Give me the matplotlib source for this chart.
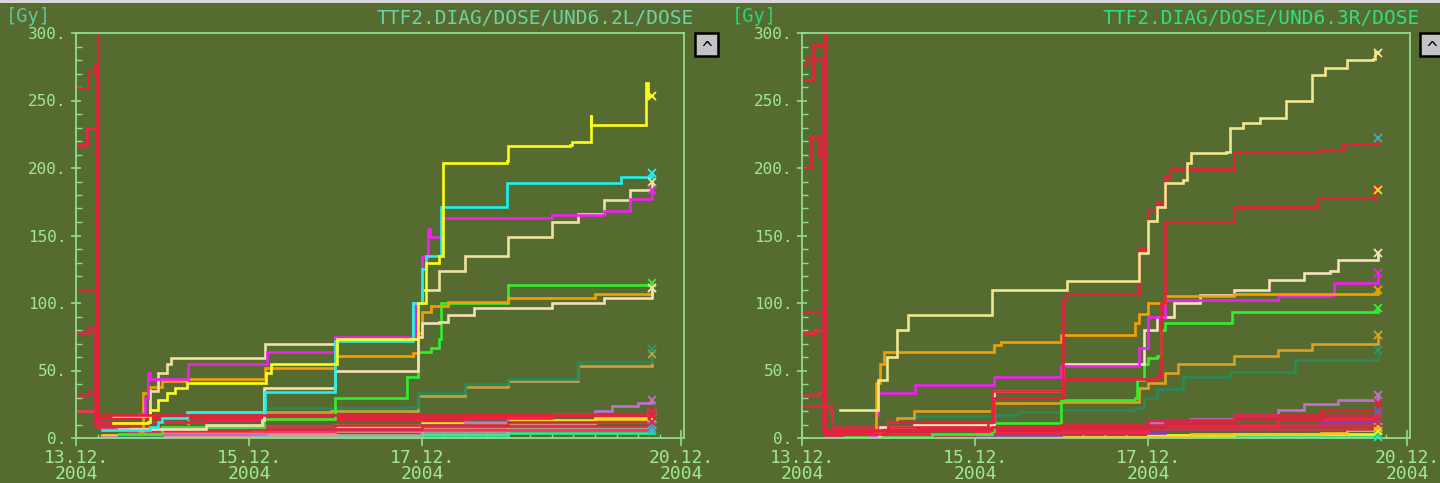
import matplotlib
matplotlib.use("Agg")
import matplotlib.pyplot as plt
from matplotlib.patches import Rectangle

# ---------------- data (t = days since 13.12.2004 00:00, value in Gy) ----------------
TICK_POS = [0, 2, 4, 7]
TICK_LABELS = ["13.12.\n2004", "15.12.\n2004", "17.12.\n2004", "20.12.\n2004"]
Y_TICKS = [0, 50, 100, 150, 200, 250, 300]
Y_LABELS = ["0.", "50.", "100.", "150.", "200.", "250.", "300."]
TITLE_L = "TTF2.DIAG/DOSE/UND6.2L/DOSE"
TITLE_R = "TTF2.DIAG/DOSE/UND6.3R/DOSE"

# ---- left panel (UND6.2L) ----
L_ORCHID_T = [0.3, 1.0, 2.2, 3.0, 4.0, 4.5, 5.0, 5.5, 6.0, 6.2, 6.5, 6.66]
L_ORCHID_V = [1, 3, 5, 7, 10, 12, 16, 18, 20, 24, 26, 28]
L_GOLD_T = [0.3, 1.0, 2.2, 3.0, 4.0, 5.0, 6.0, 6.66]
L_GOLD_V = [2, 4, 6, 8, 10, 12, 14, 15]
L_SALMON_T = [0.5, 2.0, 3.0, 4.0, 5.0, 6.0, 6.66]
L_SALMON_V = [1, 3, 5, 8, 10, 12, 14]
L_GREY_T = [0.5, 2.0, 4.0, 5.0, 6.66]
L_GREY_V = [1, 2, 5, 8, 10]
L_MINT_T = [0.3, 2.0, 4.0, 5.0, 6.66]
L_MINT_V = [0.5, 1, 3, 6, 7]
L_SPRING_T = [0.3, 3.0, 4.0, 5.0, 6.66]
L_SPRING_V = [0.5, 1, 2, 4, 5]
L_YEL2_T = [0.45, 2.0, 3.0, 4.0, 5.0, 6.0, 6.66]
L_YEL2_V = [8, 9, 10, 11, 13, 15, 17]
L_RED_A_T = [0, 0.14, 0.22, 0.24, 1.0, 2.5, 3.5, 4.5, 5.5, 6.66]
L_RED_A_V = [259, 271, 276, 15, 15, 15, 15, 17, 18, 20]
L_RED_B_T = [0, 0.13, 0.24, 1.5, 3.0, 4.5, 5.5, 6.66]
L_RED_B_V = [217, 230, 12, 13, 14, 15, 17, 19]
L_RED_C_T = [0, 0.25, 0.26, 3.0, 5.0, 6.66]
L_RED_C_V = [110, 340, 17, 17, 17, 18]
L_RED_D_T = [0, 0.15, 0.22, 0.58, 2.0, 4.0, 6.66]
L_RED_D_V = [78, 82, 10, 6, 7, 9, 12]
L_RED_E_T = [0, 0.15, 0.24, 1.0, 3.0, 5.0, 6.66]
L_RED_E_V = [32, 35, 9, 9, 10, 12, 16]
L_RED_F_T = [0, 0.25, 0.6, 3.0, 6.66]
L_RED_F_V = [20, 8, 5, 6, 9]
L_TEAL_T = [0.5, 1.0, 2.15, 2.17, 3.8, 3.95, 4.5, 5.0, 5.8, 6.66]
L_TEAL_V = [2, 8, 13, 22, 23, 33, 40, 44, 56, 66]
L_TAN_T = [0.9, 1.3, 2.95, 3.8, 3.95, 4.5, 5.0, 5.8, 6.66]
L_TAN_V = [8, 19, 20, 20, 31, 38, 42, 53, 62]
L_GREEN_T = [0.5, 1.0, 2.17, 2.97, 2.99, 3.8, 3.83, 3.95, 4.1, 4.2, 4.22, 4.98, 5.0, 6.66]
L_GREEN_V = [3, 8, 14, 14, 30, 30, 45, 64, 67, 73, 100, 100, 113, 115]
L_ORANGE_T = [0.74, 0.78, 0.85, 1.0, 1.28, 2.17, 2.19, 2.99, 3.0, 3.9, 3.95, 4.0, 4.1, 4.3, 5.0, 6.0, 6.66]
L_ORANGE_V = [5, 33, 38, 42, 44, 44, 52, 52, 61, 63, 78, 93, 98, 101, 104, 107, 111]
L_CREAM2_T = [0.5, 1.5, 2.15, 2.17, 2.99, 3.0, 3.9, 3.95, 4.0, 4.2, 4.3, 4.6, 5.5, 6.1, 6.66]
L_CREAM2_V = [7, 10, 13, 37, 38, 50, 50, 75, 85, 86, 91, 96, 100, 104, 111]
L_CREAM1_T = [0.43, 0.83, 0.86, 0.95, 1.05, 1.1, 2.17, 2.19, 2.98, 3.0, 3.85, 3.9, 4.0, 4.2, 4.5,
              4.95, 5.0, 5.5, 5.8, 6.1, 6.4, 6.66]
L_CREAM1_V = [16, 16, 35, 48, 55, 59, 59, 70, 70, 74, 74, 100, 110, 124, 135, 135, 149, 160, 166,
              176, 184, 190]
L_MAGENTA_T = [0.74, 0.8, 0.83, 0.85, 1.28, 1.3, 2.19, 2.21, 2.97, 3.0, 3.85, 3.92, 4.0, 4.07, 4.09,
               4.2, 4.22, 5.5, 6.1, 6.4, 6.66]
L_MAGENTA_V = [18, 30, 48, 44, 44, 55, 55, 64, 64, 75, 75, 100, 134, 155, 149, 149, 163, 165, 168,
               177, 184]
L_CYAN_T = [0.3, 0.85, 0.95, 1.0, 1.28, 2.16, 2.18, 2.97, 3.0, 3.85, 3.9, 4.0, 4.05, 4.2, 4.22,
            4.95, 4.98, 6.1, 6.3, 6.66]
L_CYAN_V = [6, 8, 12, 15, 19, 19, 34, 34, 72, 72, 100, 125, 135, 135, 171, 171, 189, 189, 193, 196]
L_YELLOW_T = [0.43, 0.83, 0.85, 0.95, 1.05, 1.15, 1.28, 2.17, 2.2, 2.25, 3.0, 3.02, 3.9, 3.95, 4.05,
              4.2, 4.24, 4.98, 5.0, 5.71, 5.73, 5.94, 5.95, 5.96, 6.58, 6.59, 6.61, 6.66]
L_YELLOW_V = [11, 12, 21, 28, 33, 37, 41, 41, 48, 55, 55, 73, 73, 100, 130, 135, 204, 205, 216,
              217, 219, 219, 239, 232, 232, 263, 253, 253]

# ---- right panel (UND6.3R) ----
R_ORCHID_T = [0.3, 1.0, 2.2, 3.0, 4.0, 4.5, 5.0, 5.5, 5.8, 6.2, 6.66]
R_ORCHID_V = [0.5, 3, 5, 8, 11, 14, 17, 21, 25, 28, 32]
R_PURPLE_T = [0.5, 2.0, 3.0, 4.2, 5.0, 5.5, 6.0, 6.66]
R_PURPLE_V = [1, 2, 4, 6, 8, 9, 12, 14]
R_GOLD_T = [0.5, 3.0, 4.5, 6.0, 6.3, 6.66]
R_GOLD_V = [0.5, 1, 3, 4, 6, 8]
R_YELLOW_T = [1.0, 4.0, 5.0, 6.66]
R_YELLOW_V = [1, 2, 3, 5]
R_SPRING_T = [0.3, 2.0, 4.0, 6.66]
R_SPRING_V = [0.3, 1, 2, 3]
R_LGREEN_T = [0.3, 6.66]
R_LGREEN_V = [0.2, 2]
R_CYAN_T = [0.3, 6.66]
R_CYAN_V = [0.2, 1]
R_RED_A_T = [0, 0.13, 0.25, 0.27, 1.0, 2.2, 3.0, 4.0, 5.0, 6.0, 6.66]
R_RED_A_V = [265, 291, 330, 6, 6, 8, 10, 13, 17, 21, 26]
R_RED_B_T = [0, 0.05, 0.22, 0.24, 1.5, 3.0, 4.2, 5.0, 6.0, 6.66]
R_RED_B_V = [276, 281, 281, 5, 6, 8, 11, 14, 17, 20]
R_RED_E_T = [0, 0.15, 0.26, 2.0, 4.0, 5.5, 6.66]
R_RED_E_V = [78, 80, 3, 5, 9, 14, 18]
R_RED_F_T = [0, 0.2, 0.25, 2.0, 4.0, 6.66]
R_RED_F_V = [32, 34, 2, 4, 7, 11]
R_RED_G_T = [0, 0.33, 0.35, 2.0, 4.0, 6.66]
R_RED_G_V = [24, 20, 8, 8, 10, 15]
R_TEAL_T = [0.9, 1.0, 1.3, 2.2, 2.5, 3.0, 3.85, 3.95, 4.1, 4.4, 4.95, 5.7, 6.66]
R_TEAL_V = [3, 8, 16, 17, 19, 21, 22, 30, 36, 45, 49, 58, 65]
R_GOLDEN_T = [0.9, 1.0, 1.1, 1.3, 2.2, 2.22, 2.98, 3.0, 3.85, 3.9, 4.0, 4.2, 4.35, 4.95, 5.0, 5.5,
              5.9, 6.66]
R_GOLDEN_V = [5, 12, 15, 20, 21, 26, 26, 27, 27, 37, 41, 48, 55, 55, 61, 65, 70, 76]
R_GREEN_T = [0.5, 1.5, 2.2, 2.22, 2.98, 3.0, 3.85, 3.87, 3.95, 4.0, 4.1, 4.15, 4.2, 4.95, 4.97, 6.66]
R_GREEN_V = [1, 3, 5, 11, 11, 28, 30, 43, 55, 59, 61, 80, 85, 85, 93, 96]
R_WHEAT_T = [0.8, 0.9, 1.3, 2.2, 2.22, 3.0, 3.02, 3.85, 3.95, 4.1, 4.3, 4.6, 5.0, 5.4, 5.8, 6.1, 6.2, 6.66]
R_WHEAT_V = [2, 8, 10, 10, 35, 35, 55, 55, 80, 90, 100, 106, 110, 117, 122, 124, 132, 137]
R_MAGENTA_T = [0.8, 0.85, 0.86, 0.88, 1.29, 1.31, 2.2, 2.22, 2.98, 3.0, 3.85, 3.9, 4.0, 4.2, 5.5,
               6.1, 6.15, 6.66]
R_MAGENTA_V = [2, 10, 17, 33, 33, 39, 39, 45, 45, 53, 53, 67, 90, 102, 105, 106, 115, 122]
R_ORANGE_T = [0.8, 0.85, 0.86, 0.9, 0.95, 2.2, 2.22, 2.3, 2.98, 3.0, 3.8, 3.85, 3.9, 4.0, 4.2, 5.0, 6.66]
R_ORANGE_V = [3, 13, 41, 55, 64, 64, 69, 71, 71, 76, 76, 85, 92, 100, 105, 107, 110]
R_REDLOW_T = [0, 0.12, 0.25, 1.0, 2.2, 2.22, 3.0, 3.02, 3.85, 4.1, 4.15, 4.2, 4.95, 5.0, 5.95, 5.97,
              6.6, 6.62, 6.66]
R_REDLOW_V = [93, 93, 3, 12, 12, 30, 30, 44, 44, 45, 100, 160, 160, 171, 173, 178, 178, 187, 184]
R_REDUP_T = [0, 0.1, 0.2, 0.26, 1.0, 2.15, 2.2, 3.0, 3.02, 3.05, 3.85, 3.9, 4.0, 4.1, 4.2, 4.25,
             4.95, 5.0, 6.0, 6.25, 6.66]
R_REDUP_V = [200, 223, 210, 5, 8, 12, 35, 35, 102, 107, 107, 140, 169, 174, 193, 199, 199, 212,
             213, 218, 222]
R_CREAM_T = [0.44, 0.87, 0.88, 0.98, 1.1, 1.22, 2.15, 2.2, 3.04, 3.06, 3.85, 3.9, 4.0, 4.1, 4.2,
             4.4, 4.45, 4.5, 4.9, 4.95, 5.1, 5.3, 5.6, 5.9, 6.05, 6.3, 6.6, 6.62, 6.66]
R_CREAM_V = [21, 21, 43, 60, 80, 91, 91, 110, 110, 116, 116, 137, 161, 171, 189, 191, 204, 211, 212,
             230, 233, 237, 250, 269, 274, 280, 281, 286, 285]

# (t, v, line colour, end-marker colour) in drawing order
LEFT_SERIES = [
    (L_SPRING_T, L_SPRING_V, "#22ee88", "#22ccaa"),
    (L_MINT_T, L_MINT_V, "#44dda8", "#33bbcc"),
    (L_GREY_T, L_GREY_V, "#a8b0a0", "#a8a8a8"),
    (L_SALMON_T, L_SALMON_V, "#f09080", "#f09080"),
    (L_GOLD_T, L_GOLD_V, "#ffd000", "#ffa030"),
    (L_YEL2_T, L_YEL2_V, "#f0e020", "#f0e020"),
    (L_ORCHID_T, L_ORCHID_V, "#c070d0", "#c070d0"),
    (L_TAN_T, L_TAN_V, "#c8a040", "#c8a040"),
    (L_TEAL_T, L_TEAL_V, "#2a8a5a", "#2a9a6a"),
    (L_RED_F_T, L_RED_F_V, "#ff3060", "#4a90c0"),
    (L_RED_E_T, L_RED_E_V, "#c83040", "#c83040"),
    (L_RED_D_T, L_RED_D_V, "#d82848", "#d82848"),
    (L_RED_B_T, L_RED_B_V, "#ff1a4a", "#4a90c0"),
    (L_RED_A_T, L_RED_A_V, "#e8203c", "#e8203c"),
    (L_GREEN_T, L_GREEN_V, "#30f030", "#30f030"),
    (L_ORANGE_T, L_ORANGE_V, "#f5a000", "#f5a000"),
    (L_CREAM2_T, L_CREAM2_V, "#f5dfb8", "#f5dfb8"),
    (L_CREAM1_T, L_CREAM1_V, "#f0e2a0", "#f0e2a0"),
    (L_MAGENTA_T, L_MAGENTA_V, "#f020f0", "#f020f0"),
    (L_CYAN_T, L_CYAN_V, "#20f0f0", "#20f0f0"),
    (L_YELLOW_T, L_YELLOW_V, "#ffff1a", "#ffff1a"),
    (L_RED_C_T, L_RED_C_V, "#e8203c", "#e8203c"),
]
RIGHT_SERIES = [
    (R_CYAN_T, R_CYAN_V, "#20e0e0", "#20e0e0"),
    (R_LGREEN_T, R_LGREEN_V, "#40ff40", "#40ff40"),
    (R_SPRING_T, R_SPRING_V, "#30f090", "#30c0a0"),
    (R_YELLOW_T, R_YELLOW_V, "#f0f020", "#f0f020"),
    (R_GOLD_T, R_GOLD_V, "#ffc020", "#ffc020"),
    (R_PURPLE_T, R_PURPLE_V, "#8040c0", "#8040c0"),
    (R_ORCHID_T, R_ORCHID_V, "#c070d0", "#c070d0"),
    (R_RED_G_T, R_RED_G_V, "#e02848", "#e02848"),
    (R_RED_F_T, R_RED_F_V, "#c83848", "#c83848"),
    (R_RED_E_T, R_RED_E_V, "#ff2040", "#ff2040"),
    (R_RED_B_T, R_RED_B_V, "#d02840", "#4a70c0"),
    (R_TEAL_T, R_TEAL_V, "#2a8a5a", "#2a9a6a"),
    (R_GOLDEN_T, R_GOLDEN_V, "#e0a020", "#e0a020"),
    (R_GREEN_T, R_GREEN_V, "#30f030", "#30f030"),
    (R_WHEAT_T, R_WHEAT_V, "#f8e0c0", "#f8e0c0"),
    (R_MAGENTA_T, R_MAGENTA_V, "#f020f0", "#f020f0"),
    (R_ORANGE_T, R_ORANGE_V, "#f5a000", "#f5a000"),
    (R_REDLOW_T, R_REDLOW_V, "#e8203c", "#f0e020"),
    (R_REDUP_T, R_REDUP_V, "#e8203c", "#40b0c0"),
    (R_CREAM_T, R_CREAM_V, "#f0e890", "#f0e890"),
    (R_RED_A_T, R_RED_A_V, "#e8203c", "#e8203c"),
]

# ---------------- styling ----------------
BG = "#566b30"
AXC = "#90dc90"
TICKC = "#a2e890"
MONO = "DejaVu Sans Mono"

fig = plt.figure(figsize=(14.4, 4.83), dpi=100, facecolor=BG)
W, H = 1440.0, 483.0

# light strip at the very top
fig.patches.append(Rectangle((0, 1 - 3 / H), 1, 3 / H, transform=fig.transFigure,
                             facecolor="#d8d8d8", edgecolor="none", zorder=0))


def panel(left_px, series, title, title_right_px, title_color, unit_x_px, unit_color, btn_x_px):
    ax = fig.add_axes([left_px / W, 45 / H, 608 / W, 405 / H])
    ax.set_facecolor(BG)
    for t, v, c, mc in series:
        ax.step(t, v, where="post", color=c, lw=1.9, solid_joinstyle="miter", zorder=2)
        ax.plot([t[-1]], [v[-1]], marker="x", ms=6, mew=1.3, color=mc, zorder=3, clip_on=False)
    ax.set_xlim(0, 7.03)
    ax.set_ylim(0, 300)
    for s in ax.spines.values():
        s.set_color(AXC)
        s.set_linewidth(1.3)
    ax.set_yticks(Y_TICKS)
    ax.set_yticklabels(Y_LABELS)
    ax.set_yticks(list(range(0, 301, 10)), minor=True)
    ax.set_xticks(TICK_POS)
    ax.set_xticklabels(TICK_LABELS, linespacing=0.85)
    ax.set_xticks([i * 0.25 for i in range(0, 28)], minor=True)
    ax.tick_params(axis="y", which="major", direction="inout", length=7.5, width=1.2,
                   color=AXC, labelcolor=TICKC, pad=3)
    ax.tick_params(axis="y", which="minor", direction="in", length=4, width=1.0, color=AXC)
    ax.tick_params(axis="x", which="major", direction="inout", length=11.5, width=1.2,
                   color=AXC, labelcolor=TICKC, pad=2)
    ax.tick_params(axis="x", which="minor", direction="in", length=2.6, width=1.0, color=AXC)
    for lab in ax.get_yticklabels():
        lab.set_fontfamily(MONO)
        lab.set_fontsize(11.5)
    for lab in ax.get_xticklabels():
        lab.set_fontfamily(MONO)
        lab.set_fontsize(13)
    fig.text(title_right_px / W, 1 - 18 / H, title, ha="right", va="center",
             family=MONO, fontsize=14, color=title_color)
    fig.text(unit_x_px / W, 1 - 16 / H, "[Gy]", ha="left", va="center",
             family=MONO, fontsize=13.5, color=unit_color)
    # small "^" button
    fig.patches.append(Rectangle((btn_x_px / W, 1 - 56 / H), 23 / W, 23 / H,
                                 transform=fig.transFigure, facecolor="#c4c4c4",
                                 edgecolor="black", lw=1.8, zorder=5))
    fig.text((btn_x_px + 11.5) / W, 1 - 54 / H, "^", ha="center", va="baseline",
             family=MONO, fontsize=13, color="black", zorder=6)
    return ax


panel(76, LEFT_SERIES, TITLE_L, 694, "#6cd4a4", 6, "#5cc8a0", 695)
panel(802, RIGHT_SERIES, TITLE_R, 1420, "#30e080", 732, "#28d878", 1420)

fig.savefig("out.png", dpi=100, facecolor=BG)
